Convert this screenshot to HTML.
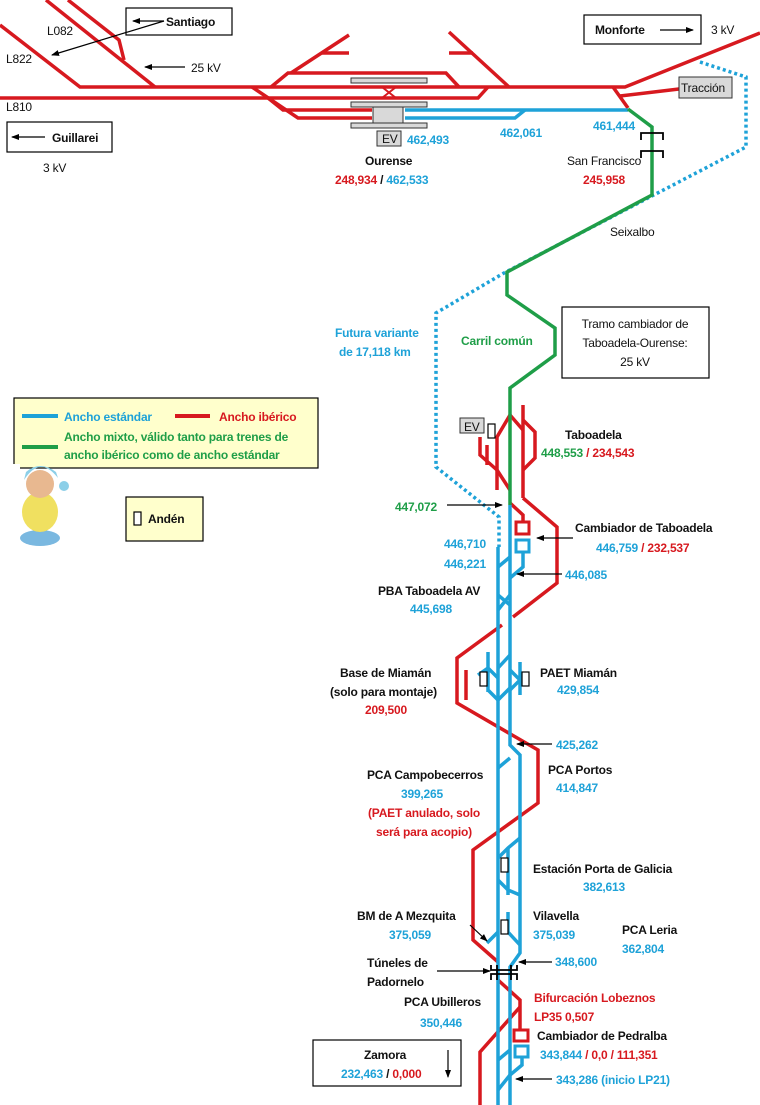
<!DOCTYPE html>
<html><head><meta charset="utf-8"><style>
html,body{margin:0;padding:0;background:#fff;}
svg{display:block;font-family:"Liberation Sans",sans-serif;}
.b{font-weight:bold;font-size:12px;letter-spacing:-0.2px;}
.n{font-size:12px;letter-spacing:-0.2px;}
.R{fill:#d7191f}.B{fill:#1ea2d8}.G{fill:#1f9e48}.K{fill:#111}
</style></head><body>
<svg width="760" height="1105" viewBox="0 0 760 1105" xmlns="http://www.w3.org/2000/svg">
<defs><marker id="ah" markerWidth="8" markerHeight="8" refX="7" refY="4" orient="auto" markerUnits="userSpaceOnUse"><path d="M0,1 L8,4 L0,7 Z" fill="#000"/></marker></defs>
<g fill="none" stroke="#d7191f" stroke-width="3.5" stroke-linejoin="miter">
<path d="M46,0 L155,87"/>
<path d="M68,0 L119,40 L124,60"/>
<path d="M0,25 L80,87 L625,87 L760,33"/>
<path d="M0,98 L478,98 L488,87"/>
<path d="M620,96 L679,89"/>
<path d="M613,87 L628,108"/>
<path d="M271,87 L288,73 L446,73 L459,87"/>
<path d="M252,87 L298,118 L372,118"/>
<path d="M268,98 L283,110 L372,110"/>
<path d="M291,73 L349,35"/><path d="M322,53 L349,53"/>
<path d="M449,32 L509,87"/><path d="M449,53 L473,53"/>
<path d="M382,87 L396,98 M396,87 L382,98" stroke-width="2"/>
<path d="M497,490 L497,437 L510,415"/>
<path d="M480,437 L480,455 L497,470"/>
<path d="M487,445 L487,465"/>
<path d="M497,470 L510,490"/>
<path d="M523,405 L523,498"/>
<path d="M523,420 L535,432 L535,458 L523,470"/>
<path d="M510,415 L523,430"/>
<path d="M510,503 L523,515 L523,522"/>
<path d="M523,498 L557,527 L557,583 L513,617"/>
<path d="M502,625 L457,658 L457,703 L538,750 L538,803 L473,850 L473,940 L498,962"/>
<path d="M466,670 L466,700"/>
<path d="M498,980 L520,1000 L520,1030"/>
<path d="M520,1007 L480,1052 L480,1105"/>
<rect x="516" y="522" width="13" height="12" stroke-width="3"/>
<rect x="514" y="1030" width="14" height="11" stroke-width="3"/>
</g>
<g fill="none" stroke="#1ea2d8" stroke-width="3.5">
<path d="M405,110 L628,110"/>
<path d="M405,118 L515,118 L525,110"/>
<path d="M498,547 L498,1105"/>
<path d="M510,505 L510,745 L520,755 L520,953 L510,967 L510,1105"/>
<path d="M523,553 L523,567 L510,578"/>
<path d="M498,567 L510,557"/>
<path d="M498,595 L510,605 M510,595 L498,610"/>
<path d="M498,668 L510,655"/>
<path d="M498,700 L510,688"/>
<path d="M488,652 L488,692 M478,675 L488,668 L498,678 M488,690 L498,700"/>
<path d="M520,662 L520,695 M510,670 L520,680 L510,690"/>
<path d="M498,768 L510,758"/>
<path d="M508,848 L508,895 M498,858 L508,848 L520,838 M498,880 L508,890 L520,895"/>
<path d="M487,943 L498,932 M508,912 L508,932 L520,945"/>
<path d="M498,1060 L510,1050"/>
<path d="M498,1090 L510,1075"/>
<path d="M522,1058 L522,1065 L510,1075"/>
<rect x="516" y="540" width="13" height="12" stroke-width="3"/>
<rect x="515" y="1046" width="13" height="11" stroke-width="3"/>
</g>
<g fill="none" stroke="#1ea2d8" stroke-width="3.5" stroke-dasharray="3,3">
<path d="M700,62 L746,77 L746,147 L504,273 L436,313 L436,467 L499,517 L499,547"/>
</g>
<g fill="none" stroke="#1f9e48" stroke-width="3.5">
<path d="M628,109 L652,127 L652,195 L507,272 L507,295 L555,328 L555,355 L510,388 L510,505"/>
</g>
<g fill="none" stroke="#000" stroke-width="1.8">
<path d="M641,140 L641,133 L663,133 L663,140"/>
<path d="M641,158 L641,151 L663,151 L663,158"/>
<path d="M491,965 L491,970 L517,970 L517,965 M491,980 L491,974 L517,974 L517,980 M497,965 L497,980 M511,965 L511,980"/>
</g>
<g fill="#d9d9d9" stroke="#333" stroke-width="1">
<rect x="351" y="78" width="76" height="5"/><rect x="351" y="102" width="76" height="5"/><rect x="351" y="123" width="76" height="5"/>
<rect x="373" y="107" width="30" height="16"/>
<rect x="377" y="131" width="24" height="15"/>
<rect x="679" y="77" width="53" height="21"/>
<rect x="460" y="418" width="24" height="15"/>
</g>
<g fill="#fff" stroke="#000" stroke-width="1.2">
<rect x="126" y="8" width="106" height="27"/>
<rect x="7" y="122" width="105" height="30"/>
<rect x="584" y="15" width="117" height="29"/>
<rect x="562" y="307" width="147" height="71"/>
<rect x="313" y="1040" width="148" height="46"/>
<rect x="14" y="398" width="304" height="70" fill="#ffffcc"/>
<rect x="126" y="497" width="77" height="44" fill="#ffffcc"/>
<rect x="134" y="512" width="7" height="13"/>
<rect x="488" y="424" width="7" height="14"/>
<rect x="480" y="672" width="7" height="14"/>
<rect x="522" y="672" width="7" height="14"/>
<rect x="501" y="858" width="7" height="14"/>
<rect x="501" y="920" width="7" height="14"/>
</g>
<rect x="0" y="464" width="20" height="90" fill="#fff"/>
<g>
<ellipse cx="40" cy="538" rx="20" ry="8" fill="#7ab8e0"/>
<ellipse cx="40" cy="512" rx="18" ry="20" fill="#f0e060"/>
<circle cx="40" cy="484" r="14" fill="#e8b890"/>
<path d="M24,480 Q40,455 58,478 L56,472 Q40,460 26,472 Z" fill="#8ccfe8"/>
<circle cx="64" cy="486" r="5" fill="#8ccfe8"/>
</g>
<g stroke="#000" stroke-width="1.2" fill="none">
<path d="M164,21 L133,21" marker-end="url(#ah)"/>
<path d="M164,21 L52,55" marker-end="url(#ah)"/>
<path d="M185,67 L145,67" marker-end="url(#ah)"/>
<path d="M45,137 L12,137" marker-end="url(#ah)"/>
<path d="M660,30 L693,30" marker-end="url(#ah)"/>
<path d="M447,505 L502,505" marker-end="url(#ah)"/>
<path d="M573,538 L537,538" marker-end="url(#ah)"/>
<path d="M562,574 L517,574" marker-end="url(#ah)"/>
<path d="M552,744 L517,744" marker-end="url(#ah)"/>
<path d="M470,925 L487,941" marker-end="url(#ah)"/>
<path d="M552,962 L519,962" marker-end="url(#ah)"/>
<path d="M437,971 L490,971" marker-end="url(#ah)"/>
<path d="M552,1079 L516,1079" marker-end="url(#ah)"/>
<path d="M448,1050 L448,1077" marker-end="url(#ah)"/>
</g>
<g stroke-width="4" fill="none">
<path d="M22,416 L58,416" stroke="#1ea2d8"/>
<path d="M175,416 L210,416" stroke="#d7191f"/>
<path d="M22,447 L58,447" stroke="#1f9e48"/>
</g>
<g>
<text x="166" y="26" class="b K">Santiago</text>
<text x="47" y="35" class="n K">L082</text>
<text x="6" y="63" class="n K">L822</text>
<text x="6" y="111" class="n K">L810</text>
<text x="191" y="72" class="n K">25 kV</text>
<text x="52" y="142" class="b K">Guillarei</text>
<text x="43" y="172" class="n K">3 kV</text>
<text x="595" y="34" class="b K">Monforte</text>
<text x="711" y="34" class="n K">3 kV</text>
<text x="681" y="92" class="n K">Tracción</text>
<text x="382" y="143" class="n K">EV</text>
<text x="407" y="144" class="b B">462,493</text>
<text x="500" y="137" class="b B">462,061</text>
<text x="593" y="130" class="b B">461,444</text>
<text x="365" y="165" class="b K">Ourense</text>
<text x="335" y="184" class="b"><tspan class="R">248,934</tspan><tspan class="K"> / </tspan><tspan class="B">462,533</tspan></text>
<text x="567" y="165" class="n K">San Francisco</text>
<text x="583" y="184" class="b R">245,958</text>
<text x="610" y="236" class="n K">Seixalbo</text>
<text x="335" y="337" class="b B">Futura variante</text>
<text x="339" y="356" class="b B">de  17,118 km</text>
<text x="461" y="345" class="b G">Carril común</text>
<text x="635" y="328" class="n K" text-anchor="middle">Tramo cambiador de</text>
<text x="635" y="347" class="n K" text-anchor="middle">Taboadela-Ourense:</text>
<text x="635" y="366" class="n K" text-anchor="middle">25 kV</text>
<text x="64" y="421" class="b B">Ancho estándar</text>
<text x="219" y="421" class="b R">Ancho ibérico</text>
<text x="64" y="441" class="b G">Ancho mixto, válido tanto para trenes de</text>
<text x="64" y="459" class="b G">ancho ibérico como de ancho estándar</text>
<text x="148" y="523" class="b K">Andén</text>
<text x="464" y="431" class="n K">EV</text>
<text x="565" y="439" class="b K">Taboadela</text>
<text x="541" y="457" class="b"><tspan class="G">448,553</tspan><tspan class="R"> / 234,543</tspan></text>
<text x="395" y="511" class="b G">447,072</text>
<text x="575" y="532" class="b K">Cambiador de Taboadela</text>
<text x="596" y="552" class="b"><tspan class="B">446,759</tspan><tspan class="R"> / 232,537</tspan></text>
<text x="444" y="548" class="b B">446,710</text>
<text x="444" y="568" class="b B">446,221</text>
<text x="565" y="579" class="b B">446,085</text>
<text x="378" y="595" class="b K">PBA Taboadela AV</text>
<text x="410" y="613" class="b B">445,698</text>
<text x="340" y="677" class="b K">Base de Miamán</text>
<text x="330" y="696" class="b K">(solo para montaje)</text>
<text x="365" y="714" class="b R">209,500</text>
<text x="540" y="677" class="b K">PAET Miamán</text>
<text x="557" y="694" class="b B">429,854</text>
<text x="556" y="749" class="b B">425,262</text>
<text x="548" y="774" class="b K">PCA Portos</text>
<text x="556" y="792" class="b B">414,847</text>
<text x="367" y="779" class="b K">PCA Campobecerros</text>
<text x="401" y="798" class="b B">399,265</text>
<text x="368" y="817" class="b R">(PAET anulado, solo</text>
<text x="376" y="836" class="b R">será para acopio)</text>
<text x="533" y="873" class="b K">Estación Porta de Galicia</text>
<text x="583" y="891" class="b B">382,613</text>
<text x="357" y="920" class="b K">BM de A Mezquita</text>
<text x="389" y="939" class="b B">375,059</text>
<text x="533" y="920" class="b K">Vilavella</text>
<text x="533" y="939" class="b B">375,039</text>
<text x="622" y="934" class="b K">PCA Leria</text>
<text x="622" y="953" class="b B">362,804</text>
<text x="555" y="966" class="b B">348,600</text>
<text x="367" y="967" class="b K">Túneles de</text>
<text x="367" y="986" class="b K">Padornelo</text>
<text x="404" y="1006" class="b K">PCA Ubilleros</text>
<text x="420" y="1027" class="b B">350,446</text>
<text x="534" y="1002" class="b R">Bifurcación Lobeznos</text>
<text x="534" y="1021" class="b R">LP35 0,507</text>
<text x="537" y="1040" class="b K">Cambiador de Pedralba</text>
<text x="540" y="1059" class="b"><tspan class="B">343,844</tspan><tspan class="R"> / 0,0 / 111,351</tspan></text>
<text x="556" y="1084" class="b B">343,286 (inicio LP21)</text>
<text x="364" y="1059" class="b K">Zamora</text>
<text x="341" y="1078" class="b"><tspan class="B">232,463</tspan><tspan class="K"> / </tspan><tspan class="R">0,000</tspan></text>
</g>
</svg>
</body></html>
